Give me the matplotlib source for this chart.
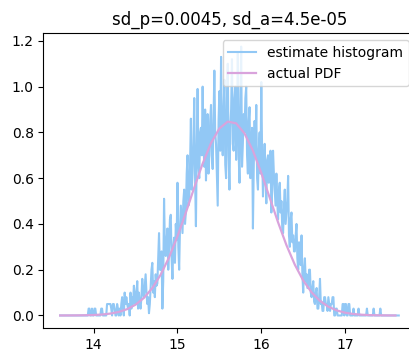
import numpy as np
import matplotlib
matplotlib.use('Agg')
import matplotlib.pyplot as plt

# histogram of the estimate, bin centres every 0.01 from 13.60 (one row = 0.2)
hist_start = 13.60
hist_step = 0.01
hist_density = [
    0, 0, 0, 0, 0, 0, 0, 0, 0, 0, 0, 0, 0, 0, 0, 0, 0, 0, 0, 0,
    0, 0, 0, 0, 0, 0, 0, 0, 0, 0, 0, 0, 0, 0, 0.03, 0.03, 0, 0, 0.03, 0,
    0, 0.03, 0.03, 0, 0, 0, 0, 0, 0, 0.03, 0.03, 0, 0, 0, 0, 0, 0.05, 0.05, 0.05, 0.05,
    0.05, 0.03, 0, 0.05, 0.05, 0.03, 0, 0, 0.05, 0.03, 0, 0.03, 0, 0.05, 0.08, 0.03, 0, 0.1, 0.05, 0.08,
    0.05, 0.03, 0.05, 0, 0.1, 0.03, 0.08, 0.05, 0.13, 0.1, 0.05, 0.08, 0.15, 0.03, 0.1, 0.05, 0.03, 0.08, 0.16, 0.1,
    0.08, 0.13, 0.18, 0.1, 0.05, 0.08, 0.01, 0.05, 0.13, 0.2, 0.23, 0.1, 0.15, 0.08, 0.18, 0.13, 0.14, 0.25, 0.36, 0.2,
    0.2, 0.28, 0.03, 0.15, 0.51, 0.3, 0.26, 0.33, 0.38, 0.2, 0.3, 0.42, 0.44, 0.25, 0.16, 0.3, 0.34, 0.23, 0.4, 0.33,
    0.58, 0.3, 0.2, 0.38, 0.48, 0.42, 0.36, 0.5, 0.55, 0.4, 0.45, 0.62, 0.7, 0.48, 0.5, 0.66, 0.86, 0.55, 0.62, 0.75,
    0.95, 0.6, 0.39, 0.72, 0.99, 0.66, 0.6, 0.8, 0.82, 0.7, 1.0, 0.75, 0.65, 0.9, 0.59, 0.72, 0.88, 0.62, 0.7, 0.85,
    0.92, 0.7, 0.64, 0.85, 1.07, 0.8, 0.75, 0.62, 0.48, 0.85, 0.98, 0.72, 1.13, 0.78, 0.7, 0.9, 1.03, 0.66, 0.6, 0.95,
    1.1, 0.7, 0.55, 0.82, 0.9, 1.12, 0.75, 0.72, 0.95, 1.0, 0.68, 0.85, 1.15, 0.7, 0.58, 0.9, 1.175, 0.65, 0.75, 0.88,
    0.8, 0.95, 1.0, 0.7, 0.62, 0.85, 0.91, 0.6, 0.7, 0.82, 0.38, 0.65, 0.85, 0.7, 0.92, 0.6, 0.55, 0.72, 0.8, 0.62,
    1.02, 0.7, 0.52, 0.65, 0.75, 0.6, 0.49, 0.68, 0.7, 0.58, 0.6, 0.72, 0.45, 0.55, 0.72, 0.62, 0.55, 0.48, 0.62, 0.5,
    0.42, 0.55, 0.58, 0.45, 0.5, 0.38, 0.36, 0.48, 0.55, 0.4, 0.45, 0.5, 0.61, 0.35, 0.3, 0.42, 0.45, 0.32, 0.35, 0.28,
    0.28, 0.35, 0.4, 0.25, 0.2, 0.32, 0.3, 0.22, 0.35, 0.18, 0.1, 0.2, 0.25, 0.15, 0.18, 0.12, 0.12, 0.2, 0.2, 0.1,
    0.08, 0.12, 0.15, 0.06, 0.05, 0.1, 0.12, 0.03, 0.03, 0.08, 0.16, 0.05, 0.06, 0.02, 0.02, 0.08, 0.08, 0.05, 0.05, 0.02,
    0.08, 0.05, 0.02, 0.05, 0.05, 0.08, 0.08, 0, 0, 0.03, 0.03, 0, 0, 0, 0, 0, 0, 0.05, 0.05, 0,
    0.05, 0.05, 0, 0, 0.05, 0.05, 0, 0, 0, 0, 0.03, 0, 0, 0, 0, 0, 0.03, 0, 0, 0,
    0, 0, 0, 0, 0, 0, 0.03, 0, 0, 0, 0, 0, 0, 0, 0.03, 0, 0, 0, 0, 0,
    0, 0, 0.03, 0, 0, 0, 0, 0, 0, 0, 0, 0, 0, 0, 0, 0, 0, 0, 0, 0,
    0, 0, 0, 0, 0,
]

# actual PDF, read every 0.1 from 13.6 to 17.6
pdf_x = [13.6, 13.7, 13.8, 13.9, 14.0, 14.1, 14.2, 14.3, 14.4, 14.5,
         14.6, 14.7, 14.8, 14.9, 15.0, 15.1, 15.2, 15.3, 15.4, 15.5,
         15.6, 15.7, 15.8, 15.9, 16.0, 16.1, 16.2, 16.3, 16.4, 16.5,
         16.6, 16.7, 16.8, 16.9, 17.0, 17.1, 17.2, 17.3, 17.4, 17.5, 17.6]
pdf_y = [0.0001, 0.0002, 0.0004, 0.001, 0.0021, 0.0042, 0.0083, 0.0155, 0.0277, 0.0472,
         0.0769, 0.1198, 0.1786, 0.2542, 0.3459, 0.4494, 0.5587, 0.6635, 0.7532, 0.8171,
         0.8473, 0.8396, 0.7953, 0.720, 0.6228, 0.5149, 0.4070, 0.3073, 0.2218, 0.1531,
         0.1009, 0.0636, 0.0383, 0.0221, 0.0121, 0.0064, 0.0032, 0.0015, 0.0007, 0.0003, 0.0001]

title = 'sd_p=0.0045, sd_a=4.5e-05'

hist_x = hist_start + hist_step * np.arange(len(hist_density))

fig = plt.figure(figsize=(4.09, 3.52), dpi=100)
ax = fig.add_axes([0.106, 0.068, 0.91, 0.838])

ax.plot(hist_x, hist_density, color='#92c8f5', lw=1.5, label='estimate histogram')
ax.plot(pdf_x, pdf_y, color='#d9a3dc', lw=1.6, label='actual PDF')

ax.set_xlim(13.40, 17.84)
ax.set_ylim(-0.055, 1.234)
ax.set_xticks([14, 15, 16, 17])
ax.set_yticks([0.0, 0.2, 0.4, 0.6, 0.8, 1.0, 1.2])
ax.tick_params(labelsize=10)
ax.set_title(title, fontsize=12)
ax.legend(loc='upper right', fontsize=10)

fig.savefig('out.png', dpi=100)
